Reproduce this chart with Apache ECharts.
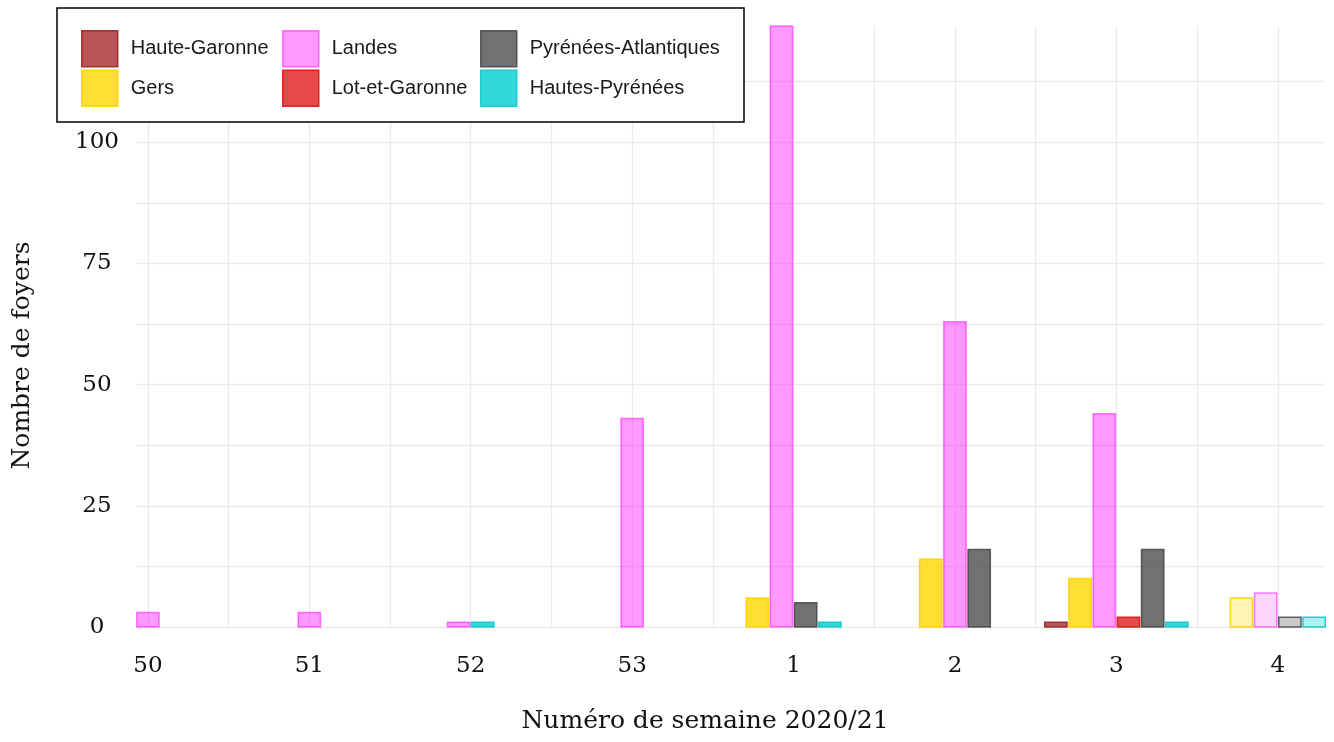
<!DOCTYPE html>
<html><head><meta charset="utf-8">
<script src="https://cdn.jsdelivr.net/npm/echarts@6/dist/echarts.min.js"></script>
<style>html,body{margin:0;padding:0;background:#fff}#c{width:1334px;height:742px}</style>
</head><body><div id="c"></div>
<script>
const weeks = ['50','51','52','53','1','2','3','4'];
const departments = ['Haute-Garonne','Gers','Landes','Lot-et-Garonne','Pyrénées-Atlantiques','Hautes-Pyrénées'];
const hauteGaronne        = [0,0,0,0,0,0,1,0];
const gers                = [0,0,0,0,6,14,10,6];
const landes              = [3,3,1,43,124,63,44,7];
const lotEtGaronne        = [0,0,0,0,0,0,2,0];
const pyreneesAtlantiques = [0,0,0,0,5,16,16,2];
const hautesPyrenees      = [0,0,1,0,1,0,1,2];
const yTickLabels = [0,25,50,75,100];
const yGridValues = [0,12.5,25,37.5,50,62.5,75,87.5,100,112.5];
const partialWeek = [false,false,false,false,false,false,false,true];

const values = [hauteGaronne, gers, landes, lotEtGaronne, pyreneesAtlantiques, hautesPyrenees];
const styles = [
  {fill:'rgba(165,42,42,0.8)', fillP:'rgba(165,42,42,0.3)', stroke:'rgba(160,35,35,0.9)'},
  {fill:'rgba(255,215,0,0.8)', fillP:'rgba(255,215,0,0.3)', stroke:'rgba(255,210,0,0.9)'},
  {fill:'rgba(255,0,255,0.4)', fillP:'rgba(255,0,255,0.17)', stroke:'rgba(255,0,255,0.5)'},
  {fill:'rgba(228,26,28,0.8)', fillP:'rgba(228,26,28,0.3)', stroke:'rgba(215,20,20,0.9)'},
  {fill:'rgba(77,77,77,0.8)', fillP:'rgba(77,77,77,0.3)', stroke:'rgba(60,60,60,0.8)'},
  {fill:'rgba(0,206,209,0.8)', fillP:'rgba(0,206,209,0.3)', stroke:'rgba(0,200,205,0.85)'}
];
const SLOT = 0.15, BARW = 0.138;

function makeSeries(idx){
  const data = [];
  values[idx].forEach((v,i)=>{ if (v>0) data.push([i,v]); });
  return {
    type:'custom', name: departments[idx],
    itemStyle:{color:styles[idx].fill, borderColor:styles[idx].stroke, borderWidth:1.5},
    data: data,
    z: 2,
    renderItem: function(params, api){
      const i = api.value(0), v = api.value(1);
      const present = [];
      values.forEach((arr,k)=>{ if (arr[i]>0) present.push(k); });
      const n = present.length, r = present.indexOf(idx);
      const center = i + (r - (n-1)/2) * SLOT;
      const p0 = api.coord([center - BARW/2, 0]);
      const p1 = api.coord([center + BARW/2, v]);
      return {type:'rect',
        shape:{x:p0[0], y:p1[1], width:p1[0]-p0[0], height:p0[1]-p1[1]},
        style:{fill: partialWeek[i] ? styles[idx].fillP : styles[idx].fill,
               stroke: styles[idx].stroke, lineWidth:1.5}};
    }
  };
}

const serif = 'DejaVu Serif';
function legendCol(names, left){
  return {
    orient:'vertical', left:left, top:30, padding:0, itemGap:2,
    itemWidth:36, itemHeight:36, icon:'rect', selectedMode:false,
    data: names.map(nm=>{ const k = departments.indexOf(nm);
      return {name:nm, itemStyle:{color:styles[k].fill, borderColor:styles[k].stroke, borderWidth:1.5}}; }),
    textStyle:{fontFamily:'Liberation Sans', fontSize:20, color:'#1a1a1a', padding:[0,0,0,8]},
    z:5
  };
}

const chart = echarts.init(document.getElementById('c'));
chart.setOption({
  animation:false,
  backgroundColor:'#fff',
  grid:{left:137, right:9, top:26, bottom:115},
  xAxis:{
    type:'value', min:-0.0675, max:7.2925,
    axisLine:{show:false},
    axisTick:{show:false, customValues:[0,0.5,1,1.5,2,2.5,3,3.5,4,4.5,5,5.5,6,6.5,7]},
    axisLabel:{customValues:[0,1,2,3,4,5,6,7], formatter:v=>weeks[Math.round(v)],
      fontFamily:serif, fontSize:23, color:'#111', margin:28},
    splitLine:{show:true, lineStyle:{color:'#ebebeb', width:1.3}},
    name:'Numéro de semaine 2020/21', nameLocation:'middle', nameGap:82,
    nameTextStyle:{fontFamily:serif, fontSize:25, color:'#111', padding:[0,52,0,0]}
  },
  yAxis:{
    type:'value', min:0, max:124,
    axisLine:{show:false},
    axisTick:{show:false, customValues:yGridValues},
    axisLabel:{customValues:yTickLabels, fontFamily:serif, fontSize:23, color:'#111', margin:40, align:'center'},
    splitLine:{show:true, lineStyle:{color:'#ebebeb', width:1.3}},
    name:'Nombre de foyers', nameLocation:'middle', nameGap:102, nameRotate:90,
    nameTextStyle:{fontFamily:serif, fontSize:25, color:'#111', padding:[0,58,0,0]}
  },
  legend:[
    legendCol(['Haute-Garonne','Gers'], 81),
    legendCol(['Landes','Lot-et-Garonne'], 282),
    legendCol(['Pyrénées-Atlantiques','Hautes-Pyrénées'], 480)
  ],
  graphic:[{type:'rect', z:4, shape:{x:57, y:8, width:687, height:114},
    style:{fill:'#fff', stroke:'#000', lineWidth:1.5}}],
  series: departments.map((d,k)=>makeSeries(k))
});
</script></body></html>
